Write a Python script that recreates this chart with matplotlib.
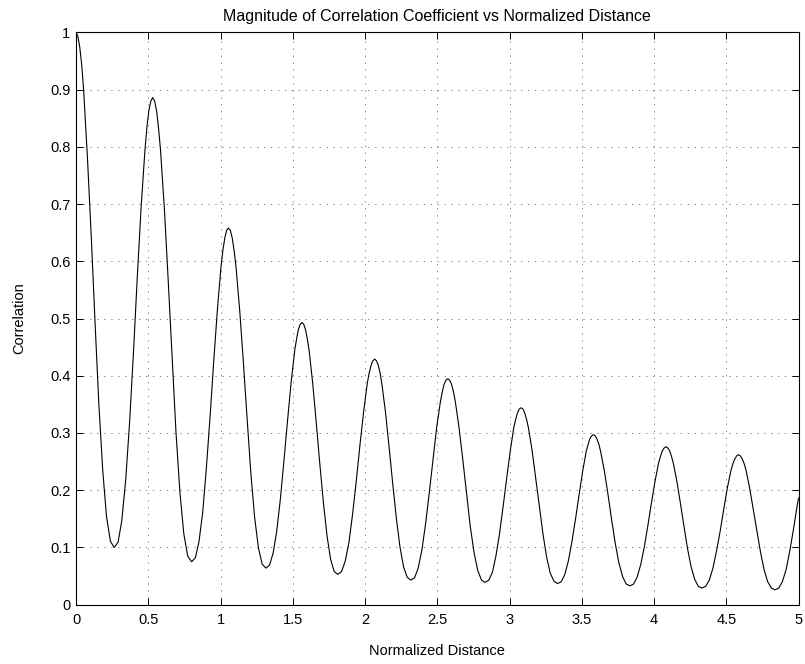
import matplotlib
matplotlib.use('Agg')
import matplotlib.pyplot as plt

# values, one row per half swing
distance = [
    0.000, 0.013, 0.026, 0.040, 0.053, 0.079, 0.106, 0.132, 0.158, 0.185, 0.211, 0.238,
    0.264, 0.291, 0.317, 0.344, 0.371, 0.398, 0.424, 0.451, 0.478, 0.491, 0.504, 0.518,
    0.531, 0.544, 0.558, 0.571, 0.585, 0.612, 0.639, 0.666, 0.692, 0.719, 0.746, 0.773,
    0.800, 0.826, 0.851, 0.877, 0.902, 0.928, 0.953, 0.979, 1.004, 1.017, 1.030, 1.042,
    1.055, 1.068, 1.081, 1.094, 1.107, 1.133, 1.159, 1.185, 1.210, 1.236, 1.262, 1.288,
    1.314, 1.339, 1.364, 1.389, 1.414, 1.439, 1.464, 1.489, 1.514, 1.527, 1.539, 1.552,
    1.564, 1.576, 1.589, 1.601, 1.614, 1.638, 1.663, 1.688, 1.713, 1.738, 1.762, 1.787,
    1.812, 1.838, 1.863, 1.889, 1.914, 1.940, 1.965, 1.991, 2.016, 2.029, 2.042, 2.054,
    2.067, 2.080, 2.092, 2.105, 2.117, 2.142, 2.167, 2.192, 2.217, 2.242, 2.267, 2.292,
    2.317, 2.343, 2.368, 2.394, 2.419, 2.445, 2.471, 2.496, 2.522, 2.535, 2.547, 2.560,
    2.573, 2.586, 2.599, 2.612, 2.625, 2.651, 2.677, 2.703, 2.728, 2.754, 2.780, 2.806,
    2.832, 2.857, 2.882, 2.906, 2.931, 2.956, 2.981, 3.006, 3.030, 3.043, 3.055, 3.068,
    3.080, 3.093, 3.105, 3.118, 3.131, 3.156, 3.181, 3.207, 3.232, 3.257, 3.282, 3.308,
    3.333, 3.358, 3.383, 3.407, 3.432, 3.457, 3.482, 3.507, 3.531, 3.544, 3.556, 3.569,
    3.581, 3.594, 3.606, 3.619, 3.631, 3.657, 3.682, 3.707, 3.732, 3.757, 3.783, 3.808,
    3.833, 3.858, 3.883, 3.908, 3.933, 3.958, 3.983, 4.008, 4.033, 4.046, 4.058, 4.071,
    4.083, 4.095, 4.108, 4.120, 4.133, 4.158, 4.183, 4.208, 4.232, 4.257, 4.282, 4.307,
    4.332, 4.357, 4.383, 4.408, 4.433, 4.459, 4.484, 4.509, 4.534, 4.547, 4.560, 4.572,
    4.585, 4.598, 4.610, 4.623, 4.636, 4.661, 4.686, 4.712, 4.737, 4.762, 4.787, 4.813,
    4.838, 4.863, 4.888, 4.914, 4.939, 4.964, 4.989, 5.000,
]
correlation = [
    1.000, 0.993, 0.974, 0.942, 0.898, 0.782, 0.641, 0.492, 0.351, 0.235, 0.154, 0.111,
    0.100, 0.109, 0.147, 0.218, 0.319, 0.442, 0.572, 0.696, 0.797, 0.835, 0.863, 0.880,
    0.886, 0.880, 0.862, 0.833, 0.794, 0.690, 0.562, 0.428, 0.301, 0.197, 0.124, 0.085,
    0.075, 0.082, 0.110, 0.162, 0.238, 0.329, 0.425, 0.517, 0.592, 0.620, 0.641, 0.654,
    0.658, 0.654, 0.641, 0.619, 0.591, 0.514, 0.421, 0.322, 0.230, 0.153, 0.100, 0.071,
    0.064, 0.069, 0.090, 0.128, 0.184, 0.251, 0.322, 0.389, 0.445, 0.465, 0.481, 0.490,
    0.493, 0.490, 0.480, 0.464, 0.443, 0.387, 0.317, 0.244, 0.176, 0.119, 0.079, 0.058,
    0.053, 0.058, 0.076, 0.109, 0.158, 0.217, 0.279, 0.338, 0.387, 0.405, 0.418, 0.426,
    0.429, 0.426, 0.418, 0.404, 0.385, 0.336, 0.275, 0.211, 0.151, 0.101, 0.066, 0.048,
    0.043, 0.047, 0.064, 0.096, 0.141, 0.196, 0.255, 0.310, 0.355, 0.372, 0.385, 0.392,
    0.395, 0.392, 0.385, 0.372, 0.355, 0.309, 0.253, 0.194, 0.138, 0.092, 0.060, 0.043,
    0.039, 0.043, 0.057, 0.085, 0.124, 0.172, 0.222, 0.270, 0.310, 0.324, 0.335, 0.342,
    0.344, 0.342, 0.335, 0.324, 0.309, 0.270, 0.222, 0.171, 0.123, 0.083, 0.055, 0.041,
    0.037, 0.040, 0.053, 0.076, 0.110, 0.150, 0.193, 0.234, 0.268, 0.280, 0.290, 0.295,
    0.297, 0.295, 0.289, 0.280, 0.267, 0.233, 0.192, 0.148, 0.107, 0.073, 0.049, 0.036,
    0.033, 0.036, 0.048, 0.070, 0.101, 0.139, 0.179, 0.217, 0.249, 0.260, 0.269, 0.274,
    0.276, 0.274, 0.269, 0.260, 0.248, 0.216, 0.177, 0.136, 0.098, 0.066, 0.044, 0.032,
    0.029, 0.032, 0.043, 0.064, 0.094, 0.130, 0.169, 0.206, 0.236, 0.247, 0.255, 0.260,
    0.262, 0.260, 0.255, 0.247, 0.236, 0.205, 0.168, 0.129, 0.092, 0.061, 0.040, 0.029,
    0.026, 0.029, 0.040, 0.061, 0.093, 0.130, 0.170, 0.186,
]
assert len(distance) == len(correlation)

x_ticks = [0, 0.5, 1, 1.5, 2, 2.5, 3, 3.5, 4, 4.5, 5]
x_tick_labels = ['0', '0.5', '1', '1.5', '2', '2.5', '3', '3.5', '4', '4.5', '5']
y_ticks = [0, 0.1, 0.2, 0.3, 0.4, 0.5, 0.6, 0.7, 0.8, 0.9, 1]
y_tick_labels = ['0', '0.1', '0.2', '0.3', '0.4', '0.5', '0.6', '0.7', '0.8', '0.9', '1']

plt.rcParams['font.family'] = ['Liberation Sans', 'DejaVu Sans']
plt.rcParams['font.size'] = 10
plt.rcParams['lines.scale_dashes'] = False

fig = plt.figure(figsize=(8.05, 6.64), dpi=100)
ax = fig.add_axes([76 / 805, 1 - 604.7 / 664, 722.5 / 805, 572.4 / 664])

ax.plot(distance, correlation, color='black', linewidth=0.8)

ax.set_xlim(0, 5)
ax.set_ylim(0, 1)
ax.set_xticks(x_ticks)
ax.set_xticklabels(x_tick_labels)
ax.set_yticks(y_ticks)
ax.set_yticklabels(y_tick_labels)

# matlab-ish dotted grid
ax.grid(True, color='0.35', linestyle=(0, (1, 4)), linewidth=0.5)
ax.tick_params(direction='in', length=5, width=0.7, top=True, right=True,
               labelsize=10.5, colors='black')
ax.tick_params(axis='x', pad=6)
ax.tick_params(axis='y', pad=4)
for s in ax.spines.values():
    s.set_linewidth(0.8)
    s.set_color('black')

ax.set_title('Magnitude of Correlation Coefficient vs Normalized Distance',
             fontsize=11.5, pad=8)
ax.set_xlabel('Normalized Distance', fontsize=10.5, labelpad=12)
ax.set_ylabel('Correlation', fontsize=10.5, labelpad=17)

fig.savefig('out.png', dpi=100)
